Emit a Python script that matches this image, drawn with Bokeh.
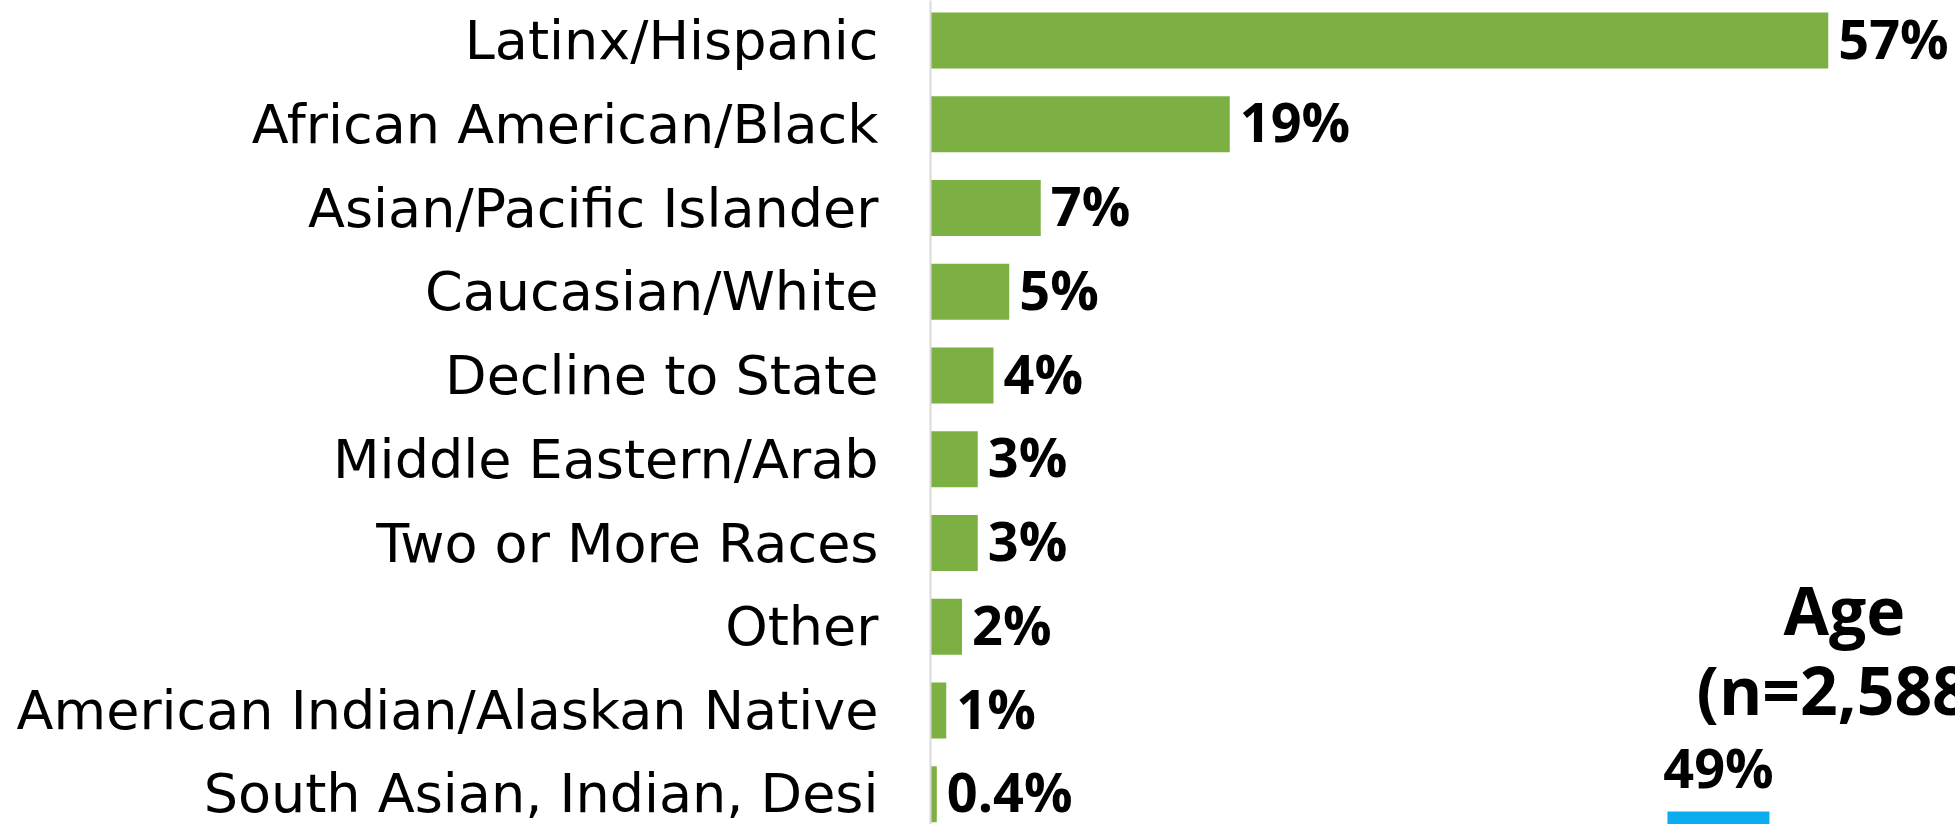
import numpy as np
from bokeh.plotting import figure
from bokeh.models import Range1d, FixedTicker, ColumnDataSource, Label, LabelSet
from bokeh.core.properties import value
from bokeh.embed import file_html
from bokeh.resources import INLINE

# ---- data ----
categories = ["Latinx/Hispanic", "African American/Black", "Asian/Pacific Islander",
              "Caucasian/White", "Decline to State", "Middle Eastern/Arab",
              "Two or More Races", "Other", "American Indian/Alaskan Native",
              "South Asian, Indian, Desi"]
values = [57, 19, 7, 5, 4, 3, 3, 2, 1, 0.4]
value_labels = ["57%", "19%", "7%", "5%", "4%", "3%", "3%", "2%", "1%", "0.4%"]

age_title = "Age"
age_n = "(n=2,588)"
age_values = [49]
age_labels = ["49%"]

GREEN = "#7db042"
BLUE = "#0badee"
FONT = "Open Sans"
LABEL_FONT = "DejaVu Sans"

n = len(categories)
ypos = [n - 1 - i for i in range(n)]

src = ColumnDataSource(dict(y=ypos, v=values, lab=value_labels))
age_src = ColumnDataSource(dict(x=list(range(len(age_values))), v=age_values, lab=age_labels))

W, H = 1955, 824
LEFT = 930
PX_PER_PCT = 15.75
ROW = 83.75

p = figure(width=W, height=H, output_backend="svg", toolbar_location=None,
           x_range=Range1d(0, (W - LEFT) / PX_PER_PCT),
           y_range=Range1d((n - 1) + 40 / ROW - H / ROW, (n - 1) + 40 / ROW),
           x_axis_location=None, y_axis_location="left",
           min_border_left=LEFT, min_border_right=0, min_border_top=0, min_border_bottom=0,
           outline_line_color=None, background_fill_color="white", border_fill_color="white")
p.xgrid.visible = False
p.ygrid.visible = False

ax = p.yaxis[0]
ax.ticker = FixedTicker(ticks=ypos, minor_ticks=[])
ax.major_label_overrides = {k: c for k, c in zip(ypos, categories)}
ax.major_tick_line_color = None
ax.minor_tick_line_color = None
ax.major_tick_out = 0
ax.major_tick_in = 0
ax.major_label_standoff = 52
ax.axis_line_color = "#d9d9d9"
ax.axis_line_width = 2
ax.major_label_text_font = LABEL_FONT
ax.major_label_text_font_size = "54px"
ax.major_label_text_color = "black"

p.hbar(y="y", left=0, right="v", height=0.67, source=src, fill_color=GREEN, line_color=None)
p.add_layout(LabelSet(x="v", y="y", text="lab", source=src, x_offset=10, y_offset=3,
                      text_align="left", text_baseline="middle", text_font=value(FONT),
                      text_font_style="bold", text_font_size="54px", text_color="black"))

# ---- second (cropped) chart: Age ----
p.extra_x_ranges = {"age": Range1d(-4.635, -4.635 + (W - LEFT) / 170)}
p.extra_y_ranges = {"age": Range1d(36, 860)}
p.vbar(x="x", top="v", bottom=0, width=0.6, source=age_src, x_range_name="age",
       y_range_name="age", fill_color=BLUE, line_color=None)
p.add_layout(LabelSet(x="x", y="v", text="lab", source=age_src, x_range_name="age",
                      y_range_name="age", y_offset=24, text_align="center",
                      text_baseline="alphabetic", text_font=value(FONT), text_font_style="bold",
                      text_font_size="54px", text_color="black"))

for txt, yy in [(age_title, 252), (age_n, 172)]:
    p.add_layout(Label(x=0.741, y=yy, x_range_name="age", y_range_name="age", text=txt,
                       text_align="center", text_baseline="alphabetic",
                       text_font=FONT, text_font_style="bold", text_font_size="66px",
                       text_color="black"))

open("out.html", "w").write(file_html(p, INLINE))
